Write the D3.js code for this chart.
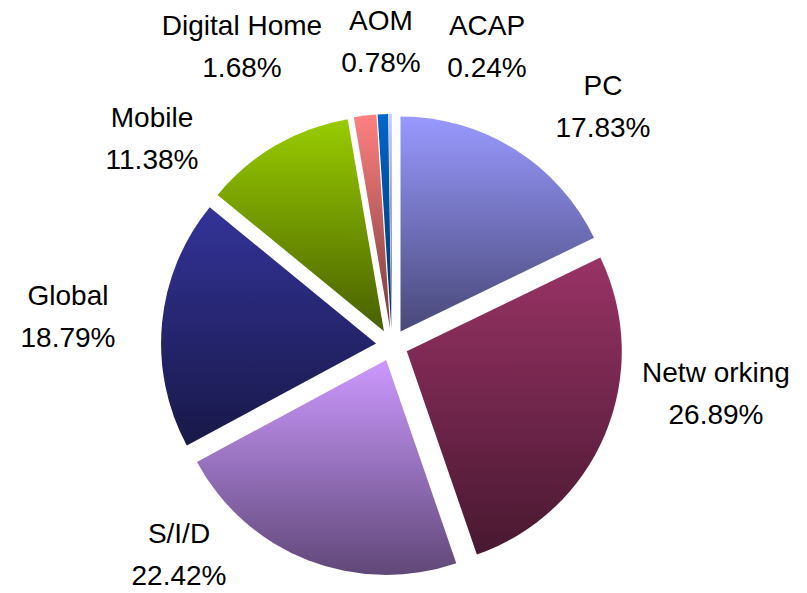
<!DOCTYPE html>
<html>
<head>
<meta charset="utf-8">
<script src="https://cdn.jsdelivr.net/npm/d3@7"></script>
<style>
  html, body { margin: 0; padding: 0; background: #ffffff; }
  svg { display: block; }
</style>
</head>
<body>
<svg id="chart" width="807" height="593"></svg>
<script>
const categories = ["PC", "Netw orking", "S/I/D", "Global", "Mobile", "Digital Home", "AOM", "ACAP"];
const values = [17.83, 26.89, 22.42, 18.79, 11.38, 1.68, 0.78, 0.24];
const valueLabels = ["17.83%", "26.89%", "22.42%", "18.79%", "11.38%", "1.68%", "0.78%", "0.24%"];
const colors = ["#9999ff", "#993366", "#cc99ff", "#333399", "#99cc00", "#ff8080", "#0066cc", "#ccccff"];

// label layout (centre x, first baseline y)
const labelLayout = [
  [603, 95], [716, 382], [179, 543], [68, 305],
  [152, 127], [242, 35], [381, 30], [487, 35]
];

const width = 807, height = 593;
const cx = 392, cy = 345, radius = 215, explode = 16;

const svg = d3.select("#chart");
const defs = svg.append("defs");

const pie = d3.pie().sort(null).value(d => d)
  .startAngle(0).endAngle(2 * Math.PI);
const arcs = pie(values);
const arc = d3.arc().innerRadius(0).outerRadius(radius);

function darker(c, f) {
  const rgb = d3.rgb(c);
  return d3.rgb(rgb.r * f, rgb.g * f, rgb.b * f).formatHex();
}

colors.forEach((c, i) => {
  const g = defs.append("linearGradient")
    .attr("id", "grad" + i)
    .attr("x1", 0).attr("y1", 0).attr("x2", 0).attr("y2", 1);
  g.append("stop").attr("offset", "0%").attr("stop-color", c);
  g.append("stop").attr("offset", "100%").attr("stop-color", darker(c, 0.47));
});

const pieG = svg.append("g").attr("transform", `translate(${cx},${cy})`);

pieG.selectAll("path.slice")
  .data(arcs)
  .join("path")
  .attr("class", "slice")
  .attr("d", arc)
  .attr("fill", (d, i) => `url(#grad${i})`)
  .attr("transform", d => {
    const a = (d.startAngle + d.endAngle) / 2;
    return `translate(${explode * Math.sin(a)},${-explode * Math.cos(a)})`;
  });

const labels = svg.append("g")
  .attr("font-family", "'Liberation Sans', Arial, sans-serif")
  .attr("font-size", 28)
  .attr("fill", "#000")
  .attr("text-anchor", "middle");

categories.forEach((name, i) => {
  const [x, y] = labelLayout[i];
  labels.append("text").attr("x", x).attr("y", y).text(name);
  labels.append("text").attr("x", x).attr("y", y + 42).text(valueLabels[i]);
});
</script>
</body>
</html>
